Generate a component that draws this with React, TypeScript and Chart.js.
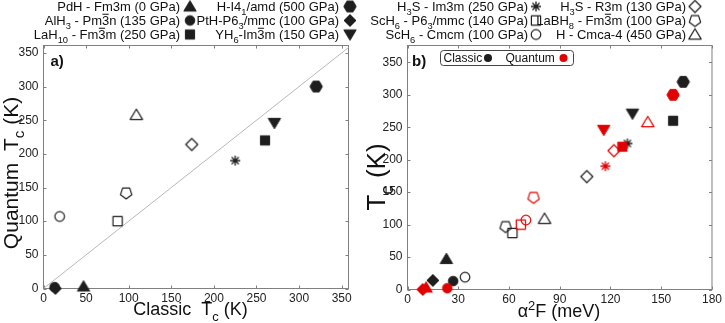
import React, { useEffect, useRef } from "react";
import { Chart, registerables } from "chart.js";

Chart.register(...registerables);

const FONT = "'Liberation Sans', Arial, Helvetica, sans-serif";

// ---------- DATA ----------
const materialLabels = [
  "PdH - Fm3m (0 GPa)",
  "AlH_{3} - Pm~{3}n (135 GPa)",
  "LaH_{10} - Fm~{3}m (250 GPa)",
  "H-I4_{1}/amd (500 GPa)",
  "PtH-P6_{3}/mmc (100 GPa)",
  "YH_{6}-Im~{3}m (150 GPa)",
  "H_{3}S - Im3m (250 GPa)",
  "ScH_{6} - P6_{3}/mmc (140 GPa)",
  "ScH_{6} - Cmcm (100 GPa)",
  "H_{3}S - R3m (130 GPa)",
  "LaBH_{8} - Fm~{3}m (100 GPa)",
  "H - Cmca-4 (450 GPa)",
];
const markerShapes = ["tri", "circle", "square", "hex", "diamond", "triDown", "star", "square", "circle", "diamond", "pent", "tri"];
const markerFilled = [true, true, true, true, true, true, true, false, false, false, false, false];

const classicTc = [47, 13, 260, 320, 14, 271, 225, 87, 19, 174, 97, 109];
const quantumTc = [3, 2, 220, 300, 0, 246, 190, 100, 107, 214, 142, 258];
const classicA2F = [23, 27, 157, 163, 15, 133, 130, 62, 34, 106, 58, 81];
const quantumA2F = [11, 23.5, 127, 157, 9, 116, 117, 67, 70, 122, 74.5, 142];

const diagonalX = [0, 400];

const leftXTitle = "Classic  T_{c} (K)";
const leftYTitle = "Quantum  T_{c} (K)";
const rightXTitle = "α^{2}F (meV)";
const rightYTitle = "T_{c} (K)";
const panelA = "a)";
const panelB = "b)";
const innerLegend = ["Classic", "Quantum"];

const BLACK = "#1e1e1e";
const RED = "#e00000";

// ---------- helpers ----------
type Seg = { t: string; k: string };
function parseRich(s: string): Seg[] {
  const out: Seg[] = [];
  let buf = "";
  let i = 0;
  while (i < s.length) {
    const c = s[i];
    if ((c === "_" || c === "^" || c === "~") && s[i + 1] === "{") {
      if (buf) out.push({ t: buf, k: "" });
      buf = "";
      const j = s.indexOf("}", i);
      out.push({ t: s.slice(i + 2, j), k: c });
      i = j + 1;
    } else {
      buf += c;
      i++;
    }
  }
  if (buf) out.push({ t: buf, k: "" });
  return out;
}

function drawRich(
  ctx: CanvasRenderingContext2D,
  s: string,
  x: number,
  y: number,
  size: number,
  align: "left" | "right" | "center",
  color: string,
  weight = "normal"
) {
  const segs = parseRich(s);
  const fontN = `${weight} ${size}px ${FONT}`;
  const fontS = `${weight} ${size * 0.72}px ${FONT}`;
  let total = 0;
  const widths = segs.map((sg) => {
    ctx.font = sg.k === "_" || sg.k === "^" ? fontS : fontN;
    const w = ctx.measureText(sg.t).width;
    total += w;
    return w;
  });
  let cx = align === "left" ? x : align === "right" ? x - total : x - total / 2;
  ctx.textAlign = "left";
  ctx.textBaseline = "alphabetic";
  ctx.fillStyle = color;
  const base = y + size * 0.36;
  segs.forEach((sg, i) => {
    let yy = base;
    if (sg.k === "_") {
      ctx.font = fontS;
      yy = base + size * 0.3;
    } else if (sg.k === "^") {
      ctx.font = fontS;
      yy = base - size * 0.42;
    } else ctx.font = fontN;
    ctx.fillText(sg.t, cx, yy);
    if (sg.k === "~") {
      ctx.fillRect(cx + 0.5, base - size * 0.88, widths[i] - 1, Math.max(1, size * 0.07));
    }
    cx += widths[i];
  });
}

function polyPath(ctx: CanvasRenderingContext2D, cx: number, cy: number, r: number, n: number, startDeg: number) {
  for (let k = 0; k < n; k++) {
    const a = ((startDeg + (360 / n) * k) * Math.PI) / 180;
    const px = cx + r * Math.cos(a);
    const py = cy + r * Math.sin(a);
    if (k === 0) ctx.moveTo(px, py);
    else ctx.lineTo(px, py);
  }
  ctx.closePath();
}

function makeMarker(shape: string, color: string, filled: boolean): HTMLCanvasElement {
  const c = document.createElement("canvas");
  c.width = 16;
  c.height = 16;
  const ctx = c.getContext("2d")!;
  const cx = 8,
    cy = 8;
  ctx.strokeStyle = color;
  ctx.fillStyle = color;
  ctx.lineJoin = "round";
  ctx.beginPath();
  if (shape === "star") {
    ctx.lineWidth = 1.3;
    for (let k = 0; k < 4; k++) {
      const a = (k * 45 * Math.PI) / 180;
      ctx.moveTo(cx - 5 * Math.cos(a), cy - 5 * Math.sin(a));
      ctx.lineTo(cx + 5 * Math.cos(a), cy + 5 * Math.sin(a));
    }
    ctx.stroke();
    return c;
  }
  switch (shape) {
    case "circle":
      ctx.arc(cx, cy, 4.8, 0, Math.PI * 2);
      break;
    case "square":
      ctx.rect(cx - 4.6, cy - 4.6, 9.2, 9.2);
      break;
    case "diamond":
      polyPath(ctx, cx, cy, 6, 4, -90);
      break;
    case "tri":
      ctx.moveTo(cx, cy - 5.8);
      ctx.lineTo(cx + 6.2, cy + 4.6);
      ctx.lineTo(cx - 6.2, cy + 4.6);
      ctx.closePath();
      break;
    case "triDown":
      ctx.moveTo(cx, cy + 5.8);
      ctx.lineTo(cx + 6.2, cy - 4.6);
      ctx.lineTo(cx - 6.2, cy - 4.6);
      ctx.closePath();
      break;
    case "hex":
      polyPath(ctx, cx, cy, 6.2, 6, 0);
      break;
    case "pent":
      polyPath(ctx, cx, cy, 6, 5, 90);
      break;
  }
  if (filled) {
    ctx.fill();
    ctx.lineWidth = 1;
    ctx.stroke();
  } else {
    ctx.lineWidth = 1.2;
    ctx.stroke();
  }
  return c;
}

function drawFrame(chart: any, color: string) {
  const { ctx, chartArea: a, scales } = chart;
  ctx.save();
  ctx.strokeStyle = color;
  ctx.lineWidth = 1;
  ctx.strokeRect(a.left, a.top, a.right - a.left, a.bottom - a.top);
  const tl = 3;
  ctx.beginPath();
  scales.x.ticks.forEach((t: any) => {
    const p = Math.round(scales.x.getPixelForValue(t.value)) + 0.5;
    ctx.moveTo(p, a.bottom);
    ctx.lineTo(p, a.bottom - tl);
    ctx.moveTo(p, a.top);
    ctx.lineTo(p, a.top + tl);
  });
  scales.y.ticks.forEach((t: any) => {
    const p = Math.round(scales.y.getPixelForValue(t.value)) + 0.5;
    ctx.moveTo(a.left, p);
    ctx.lineTo(a.left + tl, p);
    ctx.moveTo(a.right, p);
    ctx.lineTo(a.right - tl, p);
  });
  ctx.stroke();
  ctx.restore();
}

function drawLegendCols(ctx: CanvasRenderingContext2D, cols: { idx: number[]; mx: number; tx: number }[], markers: HTMLCanvasElement[]) {
  const rows = [6.5, 20.5, 34.5];
  cols.forEach((col) => {
    col.idx.forEach((mi, r) => {
      drawRich(ctx, materialLabels[mi], col.tx, rows[r], 13, "right", "#111");
      const m = markers[mi];
      ctx.drawImage(m, col.mx - m.width / 2, rows[r] - m.height / 2);
    });
  });
}

function scaleOpts(min: number, max: number, step: number, fitKey: "width" | "height", fitVal: number) {
  return {
    type: "linear" as const,
    min,
    max,
    grid: { display: false, drawTicks: false },
    border: { display: false },
    ticks: {
      stepSize: step,
      includeBounds: false,
      autoSkip: false,
      maxRotation: 0,
      color: "#222",
      padding: fitKey === "width" ? 5 : 3,
      font: { size: 12, family: FONT },
    },
    afterFit: (s: any) => {
      s[fitKey] = fitVal;
    },
  };
}

export default function App() {
  const leftRef = useRef<HTMLCanvasElement>(null);
  const rightRef = useRef<HTMLCanvasElement>(null);

  useEffect(() => {
    Chart.defaults.font.family = FONT;
    const blackMarkers = markerShapes.map((s, i) => makeMarker(s, BLACK, markerFilled[i]));
    const redMarkers = markerShapes.map((s, i) => makeMarker(s, RED, markerFilled[i]));

    const leftPlugin = {
      id: "leftDecor",
      beforeDatasetsDraw(chart: any) {
        drawFrame(chart, "#808080");
      },
      afterDraw(chart: any) {
        const ctx = chart.ctx as CanvasRenderingContext2D;
        const a = chart.chartArea;
        ctx.save();
        drawLegendCols(
          ctx,
          [
            { idx: [0, 1, 2], mx: 190, tx: 180 },
            { idx: [3, 4, 5], mx: 350, tx: 339 },
          ],
          blackMarkers
        );
        drawRich(ctx, panelA, a.left + 7, a.top + 15.5, 15, "left", "#111", "bold");
        drawRich(ctx, leftXTitle, 190.5, 309, 18, "center", "#111");
        ctx.translate(10, 173);
        ctx.rotate(-Math.PI / 2);
        drawRich(ctx, leftYTitle, 0, 0, 21, "center", "#111");
        ctx.restore();
      },
    };

    const rightPlugin = {
      id: "rightDecor",
      beforeDatasetsDraw(chart: any) {
        drawFrame(chart, "#808080");
      },
      afterDraw(chart: any) {
        const ctx = chart.ctx as CanvasRenderingContext2D;
        const a = chart.chartArea;
        ctx.save();
        drawLegendCols(
          ctx,
          [
            { idx: [6, 7, 8], mx: 174, tx: 166 },
            { idx: [9, 10, 11], mx: 333, tx: 324 },
          ],
          blackMarkers
        );
        drawRich(ctx, panelB, a.left + 4.5, a.top + 15.5, 15, "left", "#111", "bold");
        // inner legend box
        ctx.beginPath();
        (ctx as any).roundRect(78.5, 50.5, 133, 15, 3);
        ctx.fillStyle = "#fff";
        ctx.fill();
        ctx.strokeStyle = "#444";
        ctx.lineWidth = 1;
        ctx.stroke();
        drawRich(ctx, innerLegend[0], 81.5, 58, 12, "left", "#111");
        ctx.beginPath();
        ctx.arc(126, 58, 4, 0, Math.PI * 2);
        ctx.fillStyle = BLACK;
        ctx.fill();
        drawRich(ctx, innerLegend[1], 143.5, 58, 12, "left", "#111");
        ctx.beginPath();
        ctx.arc(201.5, 58, 4, 0, Math.PI * 2);
        ctx.fillStyle = RED;
        ctx.fill();
        drawRich(ctx, rightXTitle, 197, 311, 18, "center", "#111");
        ctx.translate(14, 177);
        ctx.rotate(-Math.PI / 2);
        drawRich(ctx, rightYTitle, 0, 0, 26, "center", "#111");
        ctx.restore();
      },
    };

    const left = new Chart(leftRef.current!, {
      type: "scatter",
      data: {
        datasets: [
          {
            data: classicTc.map((v, i) => ({ x: v, y: quantumTc[i] })),
            pointStyle: blackMarkers as any,
            pointRadius: 5,
            clip: false as any,
            order: 1,
          },
          {
            type: "line" as any,
            data: diagonalX.map((v) => ({ x: v, y: v })),
            borderColor: "#b8b8b8",
            borderWidth: 1,
            pointRadius: 0,
            showLine: true,
            order: 2,
          },
        ],
      },
      options: {
        animation: false,
        responsive: true,
        maintainAspectRatio: false,
        events: [],
        layout: { padding: { left: 0, top: 45.5, right: 13.5, bottom: 0 } },
        plugins: { legend: { display: false }, tooltip: { enabled: false } },
        scales: {
          x: scaleOpts(0, 358, 50, "height", 34.5),
          y: scaleOpts(0, 361, 50, "width", 43.5),
        },
      } as any,
      plugins: [leftPlugin],
    });

    const right = new Chart(rightRef.current!, {
      type: "scatter",
      data: {
        datasets: [
          {
            data: classicA2F.map((v, i) => ({ x: v, y: classicTc[i] })),
            pointStyle: blackMarkers as any,
            pointRadius: 5,
            clip: false as any,
            order: 2,
          },
          {
            data: quantumA2F.map((v, i) => ({ x: v, y: quantumTc[i] })),
            pointStyle: redMarkers as any,
            pointRadius: 5,
            clip: false as any,
            order: 1,
          },
        ],
      },
      options: {
        animation: false,
        responsive: true,
        maintainAspectRatio: false,
        events: [],
        layout: { padding: { left: 0, top: 45.5, right: 12.5, bottom: 0 } },
        plugins: { legend: { display: false }, tooltip: { enabled: false } },
        scales: {
          x: scaleOpts(0, 180, 30, "height", 33.5),
          y: scaleOpts(0, 376, 50, "width", 45.5),
        },
      } as any,
      plugins: [rightPlugin],
    });

    return () => {
      left.destroy();
      right.destroy();
    };
  }, []);

  return (
    <div style={{ position: "absolute", left: 0, top: 0, width: 725, height: 323, background: "#fff" }}>
      <div style={{ position: "absolute", left: 0, top: 0, width: 362, height: 323 }}>
        <canvas ref={leftRef} />
      </div>
      <div style={{ position: "absolute", left: 362, top: 0, width: 363, height: 323 }}>
        <canvas ref={rightRef} />
      </div>
    </div>
  );
}
